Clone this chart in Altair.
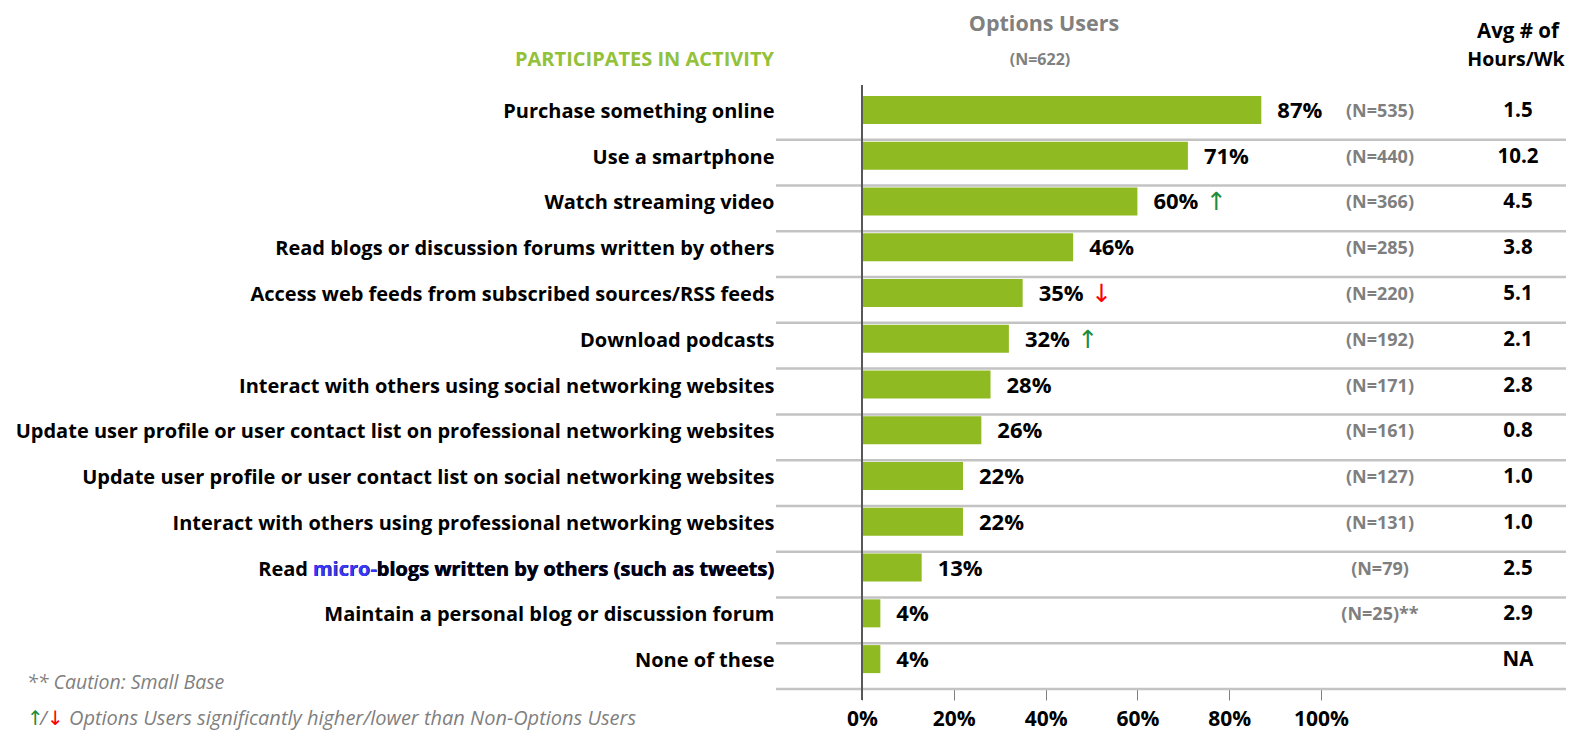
import altair as alt
import pandas as pd

FONT = "Open Sans"

categories = [
    "Purchase something online",
    "Use a smartphone",
    "Watch streaming video",
    "Read blogs or discussion forums written by others",
    "Access web feeds from subscribed sources/RSS feeds",
    "Download podcasts",
    "Interact with others using social networking websites",
    "Update user profile or user contact list on professional networking websites",
    "Update user profile or user contact list on social networking websites",
    "Interact with others using professional networking websites",
    "Read micro-blogs written by others (such as tweets)",
    "Maintain a personal blog or discussion forum",
    "None of these",
]
pct = [87, 71, 60, 46, 35, 32, 28, 26, 22, 22, 13, 4, 4]
n_labels = ["(N=535)", "(N=440)", "(N=366)", "(N=285)", "(N=220)", "(N=192)",
            "(N=171)", "(N=161)", "(N=127)", "(N=131)", "(N=79)", "(N=25)**", ""]
hours = ["1.5", "10.2", "4.5", "3.8", "5.1", "2.1", "2.8", "0.8", "1.0", "1.0",
         "2.5", "2.9", "NA"]
sig = ["", "", "up", "", "down", "up", "", "", "", "", "", "", ""]
x_ticks = [0, 0.2, 0.4, 0.6, 0.8, 1.0]

df = pd.DataFrame({
    "cat": categories,
    "frac": [p / 100 for p in pct],
    "nlab": n_labels,
    "hours": hours,
    "sig": sig,
    "arrow": ["\u2191" if s == "up" else ("\u2193" if s == "down" else "") for s in sig],
})

W, H = 459, 595
CAT_SIZE = 20
yscale = alt.Scale(domain=categories, paddingInner=0, paddingOuter=0)
yaxis = alt.Axis(title=None, domain=False, ticks=False, labelFont=FONT,
                 labelFontSize=CAT_SIZE, labelFontWeight="bold", labelColor="black",
                 labelPadding=88, labelOffset=-5, labelLimit=1000)

def Y(**kw):
    return alt.Y("cat:N", sort=categories, scale=yscale, axis=yaxis, **kw)

base = alt.Chart(df)

seps = base.mark_rule(color="#c3c3c3", strokeWidth=2.5).encode(
    y=Y(bandPosition=1),
    x=alt.value(-86), x2=alt.value(720),
)

bars = base.mark_bar(color="#8FBA21", size=28, yOffset=-7).encode(
    x=alt.X("frac:Q", scale=alt.Scale(domain=[0, 1]),
            axis=alt.Axis(values=x_ticks, format=".0%", grid=False, domain=False,
                          tickColor="#808080", tickSize=11, tickWidth=1,
                          labelFont=FONT, labelFontSize=21, labelFontWeight="bold",
                          labelColor="black", labelPadding=8, labelFlush=False,
                          title=None)),
    y=Y(),
)

yaxis_line = base.mark_rule(color="#595959", strokeWidth=1).encode(
    x=alt.value(0), y=alt.value(-9), y2=alt.value(606),
)

# blue "micro-": blue word+rest, then black rest on top
micro = pd.DataFrame({"cat": ["Read micro-blogs written by others (such as tweets)"],
                      "a": ["micro-blogs written by others (such as tweets)"],
                      "b": ["blogs written by others (such as tweets)"]})
micro_blue = alt.Chart(micro).mark_text(align="right", dy=-5, font=FONT, fontSize=CAT_SIZE,
                                        fontWeight="bold", color="#3838FF").encode(
    x=alt.value(-88), y=Y(), text="a:N")
micro_black = alt.Chart(micro).mark_text(align="right", dy=-5, font=FONT, fontSize=CAT_SIZE,
                                         fontWeight="bold", color="black").encode(
    x=alt.value(-88), y=Y(), text="b:N")

pct_text = base.mark_text(align="left", dx=16, dy=-6, font=FONT, fontSize=22,
                          fontWeight="bold", color="black").encode(
    x="frac:Q", y=Y(), text=alt.Text("frac:Q", format=".0%"),
)

arrows = base.transform_filter("datum.sig != ''").mark_text(
    align="center", dx=79, dy=-6, font="DejaVu Sans", fontSize=25).encode(
    x="frac:Q", y=Y(), text="arrow:N",
    color=alt.Color("sig:N", scale=alt.Scale(domain=["up", "down"],
                                             range=["#1E8C3A", "#FF0000"]), legend=None),
)

n_text = base.mark_text(align="center", dy=-5, font=FONT, fontSize=18,
                        fontWeight="bold", color="#7f7f7f").encode(
    x=alt.value(518), y=Y(), text="nlab:N",
)

hours_text = base.mark_text(align="center", dy=-6, font=FONT, fontSize=20.5,
                            fontWeight="bold", color="black").encode(
    x=alt.value(656), y=Y(), text="hours:N",
)

def note(txt, x, y, font=FONT, **kw):
    return alt.Chart(pd.DataFrame({"t": [txt]})).mark_text(font=font, **kw).encode(
        x=alt.value(x), y=alt.value(y), text="t:N")

headers = [
    note("Options Users", 182, -69, fontSize=21.5, fontWeight="bold", color="#808080", align="center"),
    note("(N=622)", 178, -34, fontSize=16, fontWeight="bold", color="#808080", align="center"),
    note("PARTICIPATES IN ACTIVITY", -88, -34, fontSize=20, fontWeight="bold", color="#92C13A", align="right"),
    note("Avg # of", 656, -62, fontSize=20.5, fontWeight="bold", color="black", align="center"),
    note("Hours/Wk", 654, -34, fontSize=19.5, fontWeight="bold", color="black", align="center"),
    note("** Caution:  Small Base", -835, 589, fontSize=19.5, fontStyle="italic", color="#7f7f7f", align="left"),
    note("\u2191", -835, 625, font="DejaVu Sans", fontSize=20, color="#1E8C3A", align="left"),
    note("/", -822, 625, fontSize=19.5, fontStyle="italic", color="#7f7f7f", align="left"),
    note("\u2193", -815, 625, font="DejaVu Sans", fontSize=20, color="#FF0000", align="left"),
    note("Options Users significantly higher/lower than Non-Options Users", -793, 625,
         fontSize=20, fontStyle="italic", color="#7f7f7f", align="left"),
]

chart = alt.layer(seps, bars, yaxis_line, micro_blue, micro_black, pct_text, arrows,
                  n_text, hours_text, *headers).properties(
    width=W, height=H,
    padding={"left": 854, "top": 86, "right": 245, "bottom": 42},
    autosize="none",
).configure_view(stroke=None)

chart.save("out.html", embed_options={"renderer": "svg", "actions": False})
